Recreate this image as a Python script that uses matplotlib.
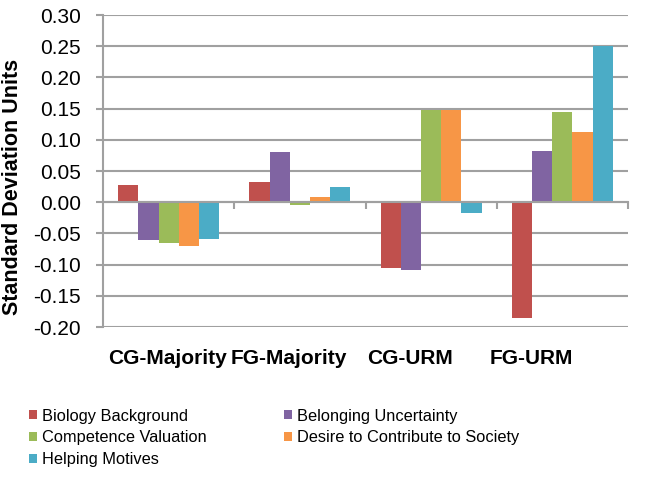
import matplotlib.pyplot as plt
import numpy as np

plt.rcParams['font.family'] = ['Liberation Sans', 'DejaVu Sans']

groups = ['CG-Majority', 'FG-Majority', 'CG-URM', 'FG-URM']
series = ['Biology Background', 'Belonging Uncertainty', 'Competence Valuation',
          'Desire to Contribute to Society', 'Helping Motives']
biology = [0.027, 0.033, -0.105, -0.185]
belonging = [-0.061, 0.080, -0.108, 0.082]
competence = [-0.065, -0.005, 0.147, 0.144]
desire = [-0.070, 0.009, 0.147, 0.112]
helping = [-0.059, 0.024, -0.017, 0.250]
colors = ['#C0504D', '#8064A2', '#9BBB59', '#F79646', '#4BACC6']

values = [biology, belonging, competence, desire, helping]
yticks = [-0.20, -0.15, -0.10, -0.05, 0.00, 0.05, 0.10, 0.15, 0.20, 0.25, 0.30]

fig = plt.figure(figsize=(6.49, 4.78), dpi=100)
ax = fig.add_axes([103 / 649, 1 - 327 / 478, 525 / 649, 312 / 478])

x = np.arange(len(groups))
w = 0.154
handles = []
for i, (name, vals) in enumerate(zip(series, values)):
    b = ax.bar(x + (i - 2) * w, vals, w, color=colors[i], label=name, zorder=3)
    handles.append(b)

grey = '#A0A0A0'
ax.set_xlim(-0.5, 3.5)
ax.set_ylim(-0.2, 0.3)
ax.set_yticks(yticks)
ax.set_yticklabels(['%.2f' % v for v in yticks])
ax.yaxis.grid(True, color=grey, linewidth=1.5, zorder=0)
ax.set_axisbelow(True)

for s in ['top', 'right']:
    ax.spines[s].set_visible(False)
ax.spines['left'].set_color(grey)
ax.spines['left'].set_linewidth(1.5)
ax.spines['bottom'].set_position(('data', 0))
ax.spines['bottom'].set_color(grey)
ax.spines['bottom'].set_linewidth(1.5)
ax.spines['bottom'].set_zorder(4)

ax.set_xticks([0.5, 1.5, 2.5, 3.5])
ax.set_xticklabels([])
ax.tick_params(axis='x', direction='out', length=5, width=1.5, color=grey)
ax.tick_params(axis='y', direction='out', length=5, width=1.5, color=grey,
               labelsize=15, pad=11)

# category labels sit a little left of the group centres in the original
label_x = x * 0.925 - 0.01
for lx, g in zip(label_x, groups):
    ax.text(lx, -0.10, g, transform=ax.get_xaxis_transform(), ha='center',
            va='center', fontsize=15, fontweight='bold')

ax.set_ylabel('Standard Deviation Units', fontsize=15.5, fontweight='bold')
ax.yaxis.set_label_coords(-0.152, 0.449)

order = [0, 2, 4, 1, 3]
fig.legend([handles[i] for i in order], [series[i] for i in order],
           loc='upper left', bbox_to_anchor=(22 / 649, 1 - 402 / 478), ncol=2,
           frameon=False, handlelength=0.5, handleheight=0.5,
           handletextpad=0.3, labelspacing=0.42, columnspacing=4.75,
           borderaxespad=0, fontsize=11.8)

fig.savefig('out.png', dpi=100)
